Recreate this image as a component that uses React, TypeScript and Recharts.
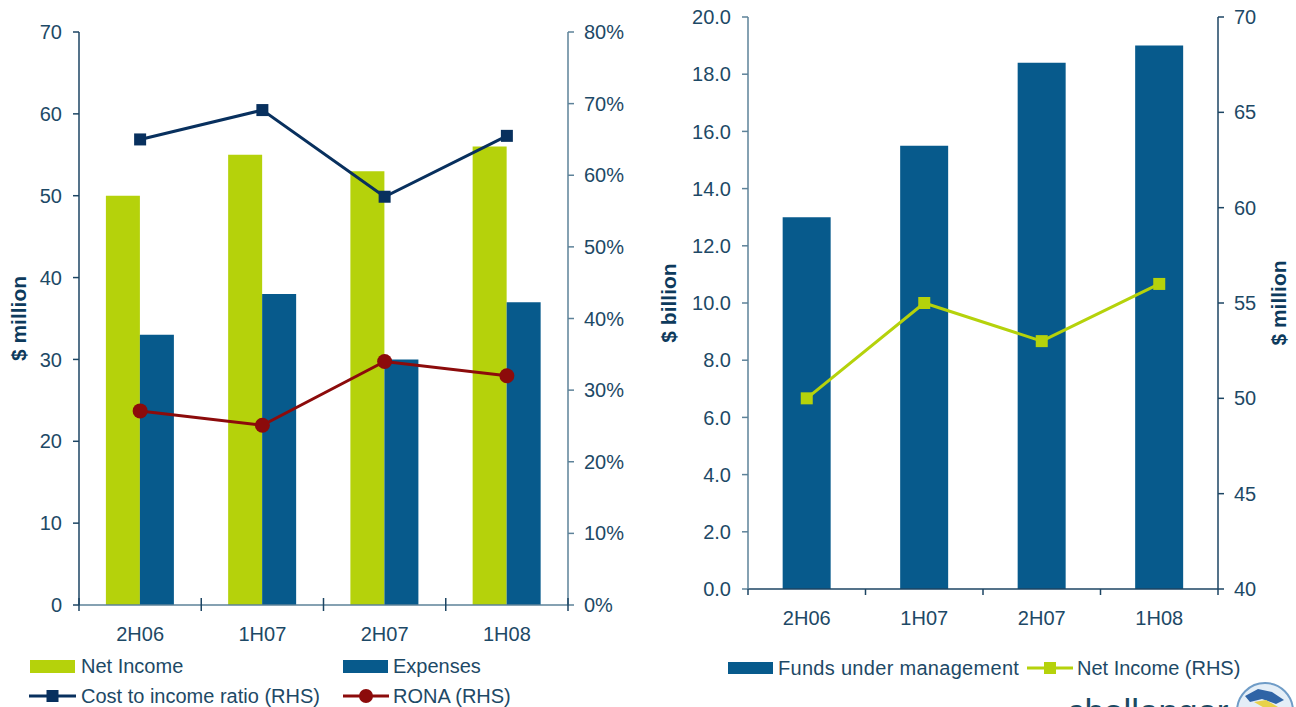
import React from 'react'
import { ComposedChart, Bar, Line, XAxis, YAxis } from 'recharts'

const periods = ['2H06', '1H07', '2H07', '1H08']
const netIncome = [50, 55, 53, 56]
const expenses = [33, 38, 30, 37]
const costToIncome = [65, 69.1, 57, 65.5]
const rona = [27.1, 25.1, 34, 32]
const funds = [13.0, 15.5, 18.4, 19.0]
const netIncomeRhs = [50, 55, 53, 56]

const millionTicks = [0, 10, 20, 30, 40, 50, 60, 70]
const pctTicks = [0, 10, 20, 30, 40, 50, 60, 70, 80]
const billionTicks = [0, 2, 4, 6, 8, 10, 12, 14, 16, 18, 20]
const rhsTicks = [40, 45, 50, 55, 60, 65, 70]
const slotTicks = [0, 0.5, 1, 1.5, 2, 2.5, 3, 3.5, 4]

const GREEN = '#b5d20b'
const BLUE = '#075a8c'
const NAVY = '#08305e'
const RED = '#8c0b0b'
const TEXT = '#1d4966'
const AXIS_DARK = '#1c4563'
const AXIS_GREY = '#5d8299'
const FONT = "'Liberation Sans', Arial, sans-serif"

// slot = middle of each category band on the helper number axis
const leftData = periods.map((p, i) => ({
  period: p, slot: i + 0.5, netIncome: netIncome[i], expenses: expenses[i],
  cost: costToIncome[i], rona: rona[i],
}))
const rightData = periods.map((p, i) => ({
  period: p, slot: i + 0.5, funds: funds[i], netIncome: netIncomeRhs[i],
}))

const tickStyle = { fill: TEXT, fontSize: 20, fontFamily: FONT }

/* category boundary ticks + labels in the middle of each slot */
const SlotTick = (props: any) => {
  const { x, y, payload, stroke, up } = props
  const v = payload.value
  if (Number.isInteger(v)) {
    return <line x1={x} x2={x} y1={y - up} y2={y + 6} stroke={stroke} strokeWidth={1.5} />
  }
  return (
    <text x={x} y={y + 29} textAnchor="middle" dominantBaseline="central"
      fill={TEXT} fontSize={20} fontFamily={FONT}>
      {periods[Math.floor(v)]}
    </text>
  )
}

const AxisTitle = (props: any) => {
  const { viewBox, value, cx } = props
  const y = viewBox.y + viewBox.height / 2
  return (
    <text x={cx} y={y} transform={`rotate(-90 ${cx} ${y})`} textAnchor="middle"
      dominantBaseline="central" fill="#0d3a5c" fontSize={21} fontWeight="bold" fontFamily={FONT}>
      {value}
    </text>
  )
}

const squareDot = (color: string, size: number) => (props: any) => {
  const { cx, cy, index } = props
  if (cx == null || cy == null) return null
  return <rect key={index} x={cx - size / 2} y={cy - size / 2} width={size} height={size} fill={color} />
}
const circleDot = (color: string, r: number) => (props: any) => {
  const { cx, cy, index } = props
  if (cx == null || cy == null) return null
  return <circle key={index} cx={cx} cy={cy} r={r} fill={color} />
}

const legendText: React.CSSProperties = {
  position: 'absolute', fontFamily: FONT, fontSize: 20, color: TEXT,
  lineHeight: '24px', whiteSpace: 'nowrap',
}

const Box = ({ left, top, width, height, color }: any) => (
  <div style={{ position: 'absolute', left, top, width, height, background: color }} />
)

const LineSwatch = ({ left, top, width, color, marker }: any) => (
  <svg style={{ position: 'absolute', left, top }} width={width} height={18}>
    <line x1={0} x2={width} y1={9} y2={9} stroke={color} strokeWidth={3} />
    {marker === 'square'
      ? <rect x={width / 2 - 6} y={3} width={12} height={12} fill={color} />
      : <circle cx={width / 2} cy={9} r={7} fill={color} />}
  </svg>
)

export default function App() {
  return (
    <div style={{ position: 'absolute', left: 0, top: 0, width: 1296, height: 707, overflow: 'hidden', background: '#fff' }}>
      {/* left chart: income / expenses */}
      <div style={{ position: 'absolute', left: 0, top: 0 }}>
        <ComposedChart width={650} height={652} data={leftData}
          margin={{ top: 32, right: 0, bottom: 12, left: 0 }} barCategoryGap="22%" barGap={0}>
          <XAxis xAxisId="slot" dataKey="slot" type="number" domain={[0, 4]} ticks={slotTicks} interval={0}
            allowDataOverflow height={35} tickSize={0} tickMargin={0} tickLine={false}
            axisLine={{ stroke: AXIS_GREY, strokeWidth: 1.5 }}
            tick={<SlotTick stroke={AXIS_DARK} up={7} />} />
          <XAxis dataKey="period" hide height={0} />
          <YAxis yAxisId="l" width={79} domain={[0, 70]} ticks={millionTicks} interval={0}
            tickSize={6} tickMargin={11} tick={tickStyle}
            axisLine={{ stroke: AXIS_DARK, strokeWidth: 1.5 }} tickLine={{ stroke: AXIS_DARK, strokeWidth: 1.5 }}
            label={<AxisTitle value="$ million" cx={18} />} />
          <YAxis yAxisId="r" orientation="right" width={82} domain={[0, 80]} ticks={pctTicks} interval={0}
            tickSize={6} tickMargin={10} tick={tickStyle} tickFormatter={(v: number) => `${v}%`}
            axisLine={{ stroke: AXIS_GREY, strokeWidth: 1.5 }} tickLine={{ stroke: AXIS_GREY, strokeWidth: 1.5 }} />
          <Bar yAxisId="l" dataKey="netIncome" fill={GREEN} isAnimationActive={false} />
          <Bar yAxisId="l" dataKey="expenses" fill={BLUE} isAnimationActive={false} />
          <Line yAxisId="r" type="linear" dataKey="cost" stroke={NAVY} strokeWidth={3}
            dot={squareDot(NAVY, 12)} activeDot={false} isAnimationActive={false} />
          <Line yAxisId="r" type="linear" dataKey="rona" stroke={RED} strokeWidth={3}
            dot={circleDot(RED, 7.5)} activeDot={false} isAnimationActive={false} />
        </ComposedChart>
      </div>

      {/* left legend */}
      <Box left={30} top={660} width={45} height={13} color={GREEN} />
      <div style={{ ...legendText, left: 81, top: 654 }}>Net Income</div>
      <Box left={343} top={660} width={45} height={13} color={BLUE} />
      <div style={{ ...legendText, left: 393, top: 654 }}>Expenses</div>
      <LineSwatch left={29} top={687} width={47} color={NAVY} marker="square" />
      <div style={{ ...legendText, left: 81, top: 684 }}>Cost to income ratio (RHS)</div>
      <LineSwatch left={343} top={687} width={46} color={RED} marker="circle" />
      <div style={{ ...legendText, left: 393, top: 684 }}>RONA (RHS)</div>

      {/* right chart: funds under management */}
      <div style={{ position: 'absolute', left: 650, top: 0 }}>
        <ComposedChart width={646} height={640} data={rightData}
          margin={{ top: 17, right: 0, bottom: 0, left: 0 }} barCategoryGap="29.5%">
          <XAxis xAxisId="slot" dataKey="slot" type="number" domain={[0, 4]} ticks={slotTicks} interval={0}
            allowDataOverflow height={51} tickSize={0} tickMargin={0} tickLine={false}
            axisLine={{ stroke: AXIS_DARK, strokeWidth: 1.5 }}
            tick={<SlotTick stroke={AXIS_DARK} up={0} />} />
          <XAxis dataKey="period" hide height={0} />
          <YAxis yAxisId="l" width={98} domain={[0, 20]} ticks={billionTicks} interval={0}
            tickSize={6} tickMargin={11} tick={tickStyle} tickFormatter={(v: number) => v.toFixed(1)}
            axisLine={{ stroke: AXIS_GREY, strokeWidth: 1.5 }} tickLine={{ stroke: AXIS_GREY, strokeWidth: 1.5 }}
            label={<AxisTitle value="$ billion" cx={18.5} />} />
          <YAxis yAxisId="r" orientation="right" width={78} domain={[40, 70]} ticks={rhsTicks} interval={0}
            tickSize={6} tickMargin={10} tick={tickStyle}
            axisLine={{ stroke: AXIS_DARK, strokeWidth: 1.5 }} tickLine={{ stroke: AXIS_DARK, strokeWidth: 1.5 }}
            label={<AxisTitle value="$ million" cx={628} />} />
          <Bar yAxisId="l" dataKey="funds" fill={BLUE} isAnimationActive={false} />
          <Line yAxisId="r" type="linear" dataKey="netIncome" stroke={GREEN} strokeWidth={3}
            dot={squareDot(GREEN, 12)} activeDot={false} isAnimationActive={false} />
        </ComposedChart>
      </div>

      {/* right legend */}
      <Box left={728} top={662} width={45} height={12} color={BLUE} />
      <div style={{ ...legendText, left: 778, top: 656, letterSpacing: 0.3 }}>Funds under management</div>
      <LineSwatch left={1027} top={659} width={46} color={GREEN} marker="square" />
      <div style={{ ...legendText, left: 1077, top: 656 }}>Net Income (RHS)</div>

      {/* partial logo at the bottom edge */}
      <svg style={{ position: 'absolute', left: 1040, top: 680 }} width={256} height={27}>
        <text x={27} y={44} fontSize={35} fontFamily={FONT} fill="#1b4a63">challenger</text>
        <circle cx={225} cy={31} r={28} fill="#e4eef7" stroke="#6f9cc7" strokeWidth={2} />
        <polygon points="205,16 218,9 232,12 244,20 236,24 222,19 210,22" fill="#2f64a6" />
        <polygon points="214,22 226,20 238,27 228,30" fill="#e8d24a" />
      </svg>
    </div>
  )
}
